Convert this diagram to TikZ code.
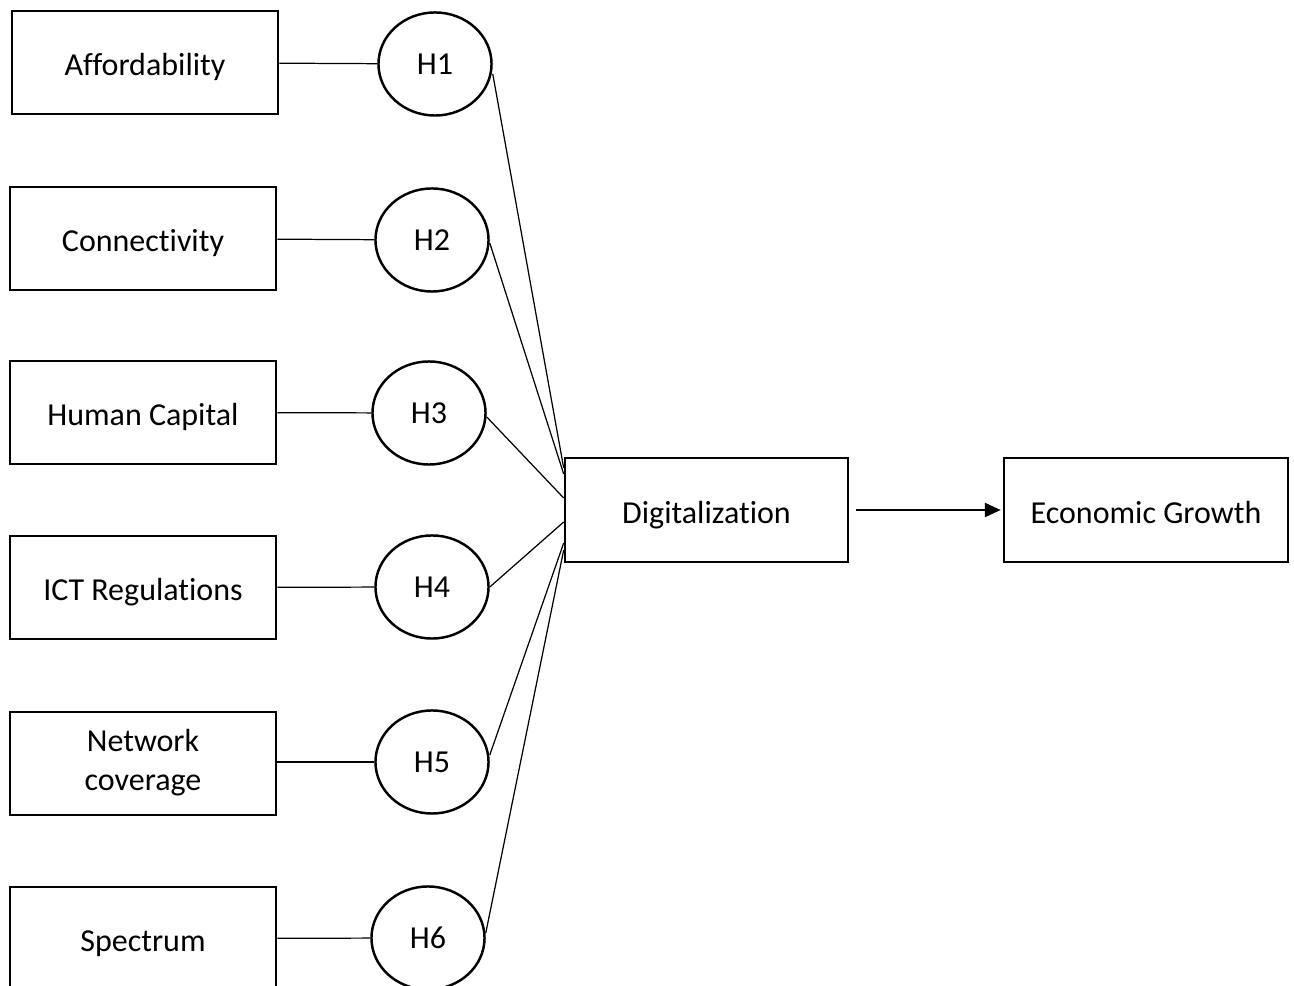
\documentclass[tikz,border=0pt]{standalone}
\usepackage{fontspec}
\setmainfont{Carlito}[Ligatures=NoCommon]
\usetikzlibrary{arrows.meta,shapes.geometric}
\begin{document}
\begin{tikzpicture}[x=0.01cm,y=-0.01cm,
  factor/.style={draw,line width=0.7pt,minimum width=2.66cm,minimum height=1.03cm,inner sep=0pt,align=center,text height=7.6pt,text depth=0pt,font=\fontsize{9.1}{11}\selectfont},
  hypo/.style={draw,ellipse,line width=0.7pt,minimum width=1.13cm,minimum height=1.03cm,inner sep=0pt,font=\fontsize{9.1}{11}\selectfont},
  link/.style={line width=0.35pt}]
\clip (0,0) rectangle (1294,986);
\node[factor] (aff) at (145,62.5) {Affordability};
\node[factor] (con) at (143,238.5) {Connectivity};
\node[factor] (hum) at (143,412.5) {Human Capital};
\node[factor] (ict) at (143,587.5) {ICT Regulations};
\node[factor,text height=,text depth=2pt] (net) at (143,763.5) {Network\\coverage};
\node[factor] (spe) at (143,938.5) {Spectrum};
\node[hypo] (h1) at (435,64) {H1};
\node[hypo] (h2) at (432,240) {H2};
\node[hypo] (h3) at (429,413) {H3};
\node[hypo] (h4) at (432,587) {H4};
\node[hypo] (h5) at (432,762) {H5};
\node[hypo] (h6) at (428,938) {H6};
\node[factor,minimum width=2.83cm,minimum height=1.04cm] (dig) at (706.5,510) {Digitalization};
\node[factor,minimum width=2.84cm,minimum height=1.04cm] (eco) at (1146,510) {Economic Growth};
\draw[link] (aff) -- (h1);
\draw[link] (con) -- (h2);
\draw[link] (hum) -- (h3);
\draw[link] (ict) -- (h4);
\draw[link] (net.east |- h5) -- (h5);
\draw[link] (spe) -- (h6);
\draw[link] ([yshift=-0.1cm]h1.east) -- ([yshift=0.42cm]dig.west);
\draw[link] ([yshift=-0.03cm]h2.east) -- ([yshift=0.36cm]dig.west);
\draw[link] ([yshift=-0.04cm]h3.east) -- ([yshift=0.12cm]dig.west);
\draw[link] (h4.east) -- ([yshift=-0.12cm]dig.west);
\draw[link] ([yshift=0.07cm]h5.east) -- ([yshift=-0.33cm]dig.west);
\draw[link] ([yshift=0.05cm]h6.east) -- ([yshift=-0.40cm]dig.west);
\draw[line width=0.6pt,-{Triangle[length=4.5pt,width=4pt]},shorten <=0.07cm,shorten >=0.02cm] (dig) -- (eco);
\end{tikzpicture}
\end{document}
